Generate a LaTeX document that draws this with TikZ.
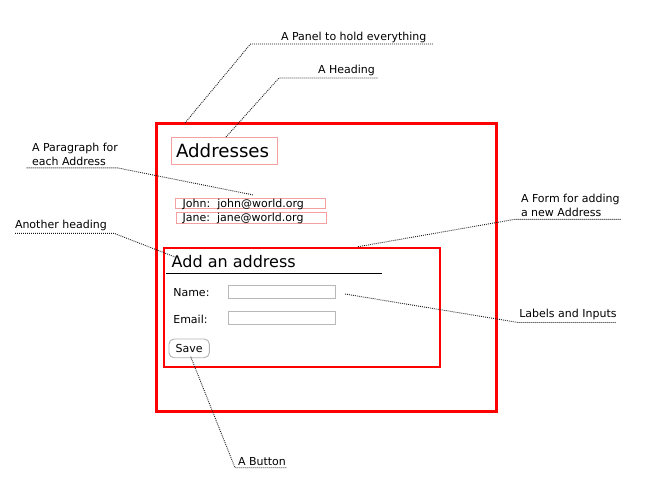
\documentclass[tikz,border=0pt]{standalone}
\usepackage{fontspec}
\setmainfont{DejaVu Sans}
\begin{document}
\begin{tikzpicture}[x=1pt,y=-1pt,
  callout/.style={font=\fontsize{11}{14}\selectfont, inner sep=0pt, outer sep=0pt, anchor=base west, align=left, text=black},
  leader/.style={draw=black!90, line width=0.9pt, dash pattern=on 0.9pt off 1.1pt},
  small/.style={font=\fontsize{11}{13}\selectfont, inner sep=0pt, outer sep=0pt, anchor=base west, text=black},
  box/.style={inner sep=0pt, outer sep=0pt, anchor=north west, rectangle},
  pinkbox/.style={box, draw={rgb,255:red,245;green,160;blue,160}, line width=1pt},
  inputbox/.style={box, draw=black!28, line width=0.9pt},
]
\useasboundingbox (0,0) rectangle (650,500);
% main panel
\node[box, draw=red, line width=3pt, minimum width=340pt, minimum height=288pt] (panel) at (156.5,123.5) {};
% heading
\node[pinkbox, minimum width=106pt, minimum height=27pt] (hbox) at (171.5,137) {};
\node[small, font=\fontsize{18.2}{21}\selectfont] (htext) at (176,157.5) {Addresses};
% paragraphs
\node[pinkbox, minimum width=150.5pt, minimum height=10.5pt] (p1) at (175.3,198) {};
\node[small] (p1t) at (182.7,207.4) {John:\ \ john@world.org};
\node[pinkbox, minimum width=150.5pt, minimum height=11pt] (p2) at (176.3,212.2) {};
\node[small] (p2t) at (182.7,221.4) {Jane:\ \ jane@world.org};
% form
\node[box, draw=red, line width=1.8pt, minimum width=276pt, minimum height=119pt] (form) at (164,248) {};
\node[small, font=\fontsize{16}{19}\selectfont] (ftitle) at (171.7,267.5) {Add an address};
\coordinate (ul1) at (166,273.3);
\coordinate (ul2) at (381.7,273.3);
\draw[line width=1.1pt, black] (ul1) -- (ul2);
\node[small] (lname) at (173.3,296) {Name:};
\node[inputbox, minimum width=107pt, minimum height=13pt] (iname) at (228,285) {};
\node[small] (lemail) at (173.3,323.5) {Email:};
\node[inputbox, minimum width=107pt, minimum height=13pt] (iemail) at (228,311) {};
\node[box, draw=black!30, line width=0.9pt, rounded corners=5pt, minimum width=40.3pt, minimum height=18.7pt] (save) at (169,339) {};
\node[small, anchor=base] (savet) at (189.2,352.5) {Save};
% callouts
\node[callout] (c1) at (281,40.8) {A Panel to hold everything};
\coordinate (c1a) at (185,123);
\coordinate (c1b) at (250.5,44);
\coordinate (c1c) at (433,44);
\draw[leader] (c1a) -- (c1b) -- (c1c);
\node[callout] (c2) at (318,74) {A Heading};
\coordinate (c2a) at (226,137);
\coordinate (c2b) at (279,78);
\coordinate (c2c) at (378,78);
\draw[leader] (c2a) -- (c2b) -- (c2c);
\node[callout] (c3) at (32,165.7) {A Paragraph for\\each Address};
\coordinate (c3a) at (26.7,167.8);
\coordinate (c3b) at (117,167.8);
\coordinate (c3c) at (253.5,195);
\draw[leader] (c3a) -- (c3b) -- (c3c);
\node[callout] (c4) at (15,228.4) {Another heading};
\coordinate (c4a) at (15,233.3);
\coordinate (c4b) at (114,233.3);
\coordinate (c4c) at (175,257);
\draw[leader] (c4a) -- (c4b) -- (c4c);
\node[callout] (c5) at (521,216.4) {A Form for adding\\a new Address};
\coordinate (c5a) at (358,246.7);
\coordinate (c5b) at (515,219.3);
\coordinate (c5c) at (621,219.3);
\draw[leader] (c5a) -- (c5b) -- (c5c);
\node[callout] (c6) at (519.3,317.4) {Labels and Inputs};
\coordinate (c6a) at (345,294);
\coordinate (c6b) at (518.3,322.5);
\coordinate (c6c) at (616,322.5);
\draw[leader] (c6a) -- (c6b) -- (c6c);
\node[callout] (c7) at (238,465.7) {A Button};
\coordinate (c7a) at (190.7,356.7);
\coordinate (c7b) at (235,467.7);
\coordinate (c7c) at (286.7,467.7);
\draw[leader] (c7a) -- (c7b) -- (c7c);
\end{tikzpicture}
\end{document}
